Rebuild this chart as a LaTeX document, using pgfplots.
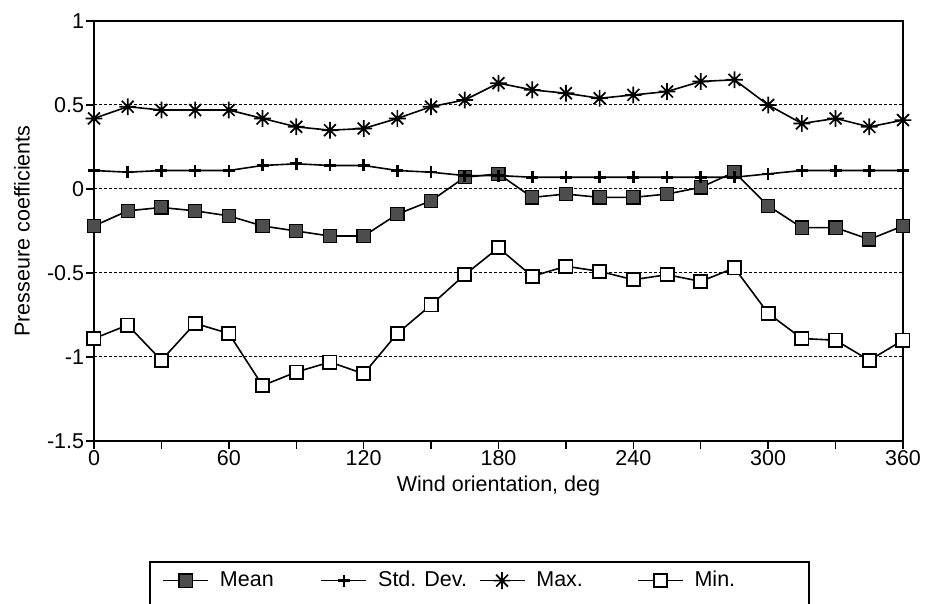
\documentclass[border=0pt]{standalone}
\usepackage{fontspec}
\setmainfont{Liberation Sans}
\usepackage{pgfplots}
\pgfplotsset{compat=1.18}

\pgfdeclareplotmark{star8}{%
 \pgfpathmoveto{\pgfpoint{-\pgfplotmarksize}{0pt}}\pgfpathlineto{\pgfpoint{\pgfplotmarksize}{0pt}}%
 \pgfpathmoveto{\pgfpoint{0pt}{-\pgfplotmarksize}}\pgfpathlineto{\pgfpoint{0pt}{\pgfplotmarksize}}%
 \pgfpathmoveto{\pgfpoint{-0.7071\pgfplotmarksize}{-0.7071\pgfplotmarksize}}\pgfpathlineto{\pgfpoint{0.7071\pgfplotmarksize}{0.7071\pgfplotmarksize}}%
 \pgfpathmoveto{\pgfpoint{-0.7071\pgfplotmarksize}{0.7071\pgfplotmarksize}}\pgfpathlineto{\pgfpoint{0.7071\pgfplotmarksize}{-0.7071\pgfplotmarksize}}%
 \pgfusepathqstroke}

\definecolor{meanfill}{HTML}{4D4D4D}
\newcommand{\chartfont}{\fontsize{10.75}{12.5}\selectfont}

\begin{document}
\begin{tikzpicture}
\begin{axis}[
  scale only axis,
  width=404.5pt, height=210pt,
  xmin=0, xmax=360, ymin=-1.5, ymax=1,
  xtick={0,60,...,360},
  minor xtick={30,90,...,330},
  ytick={-1.5,-1,-0.5,0,0.5,1},
  yticklabels={-1.5,-1,-0.5,0,0.5,1},
  xticklabels={0,60,120,180,240,300,360},
  tick align=outside,
  major tick length=4pt, minor tick length=4pt,
  xtick pos=bottom, ytick pos=left,
  tick style={black, line width=0.7pt},
  axis line style={black, line width=0.8pt},
  ymajorgrids,
  major grid style={black, line width=0.5pt, dash pattern=on 1.5pt off 1pt},
  tick label style={font=\chartfont, inner sep=0.75pt},
  label style={font=\chartfont},
  xlabel={Wind orientation, deg},
  ylabel={Presseure coefficients},
  xlabel style={at={(axis description cs:0.5,-0.107)}, anchor=center},
  ylabel style={at={(axis description cs:-0.089,0.5)}, anchor=center},
  legend columns=4,
  legend image code/.code={\draw[mark repeat=2,mark phase=2,#1] plot coordinates {(0pt,0pt)(11.25pt,0pt)(22.5pt,0pt)};},
  legend style={at={(axis description cs:0.0692,-0.288)}, anchor=north west,
    name=leg, draw=none, fill=none, font=\chartfont,
    inner xsep=6pt, inner ysep=4.5pt, column sep=5.5pt,
    nodes={inner sep=0pt}},
  legend cell align=left,
  every axis plot/.append style={black, line width=0.8pt},
]
\addplot[mark=square*, mark size=3.3pt, mark options={fill=meanfill, draw=black, line width=0.6pt}] coordinates {
(0,-0.22)(15,-0.13)(30,-0.11)(45,-0.13)(60,-0.16)(75,-0.22)(90,-0.25)(105,-0.28)(120,-0.28)
(135,-0.15)(150,-0.07)(165,0.07)(180,0.09)(195,-0.05)(210,-0.03)(225,-0.05)(240,-0.05)
(255,-0.03)(270,0.01)(285,0.10)(300,-0.10)(315,-0.23)(330,-0.23)(345,-0.30)(360,-0.22)};
\addlegendentry{\makebox[44.8pt][l]{Mean}}

\addplot[mark=+, mark size=3pt, mark options={line width=1.3pt}] coordinates {
(0,0.11)(15,0.10)(30,0.11)(45,0.11)(60,0.11)(75,0.14)(90,0.15)(105,0.14)(120,0.14)
(135,0.11)(150,0.10)(165,0.08)(180,0.08)(195,0.07)(210,0.07)(225,0.07)(240,0.07)
(255,0.07)(270,0.07)(285,0.07)(300,0.09)(315,0.11)(330,0.11)(345,0.11)(360,0.11)};
\addlegendentry{\makebox[44.8pt][l]{Std. Dev.}}

\addplot[mark=star8, mark size=4.2pt, mark options={line width=0.85pt}] coordinates {
(0,0.42)(15,0.49)(30,0.47)(45,0.47)(60,0.47)(75,0.42)(90,0.37)(105,0.35)(120,0.36)
(135,0.42)(150,0.49)(165,0.53)(180,0.63)(195,0.59)(210,0.57)(225,0.54)(240,0.56)
(255,0.58)(270,0.64)(285,0.65)(300,0.50)(315,0.39)(330,0.42)(345,0.37)(360,0.41)};
\addlegendentry{\makebox[44.8pt][l]{Max.}}

\addplot[mark=square*, mark size=3.3pt, mark options={fill=white, draw=black, line width=0.9pt}] coordinates {
(0,-0.89)(15,-0.81)(30,-1.02)(45,-0.80)(60,-0.86)(75,-1.17)(90,-1.09)(105,-1.03)(120,-1.10)
(135,-0.86)(150,-0.69)(165,-0.51)(180,-0.35)(195,-0.52)(210,-0.46)(225,-0.49)(240,-0.54)
(255,-0.51)(270,-0.55)(285,-0.47)(300,-0.74)(315,-0.89)(330,-0.90)(345,-1.02)(360,-0.90)};
\addlegendentry{\makebox[51pt][l]{Min.}}
\end{axis}
\draw[black, line width=0.6pt] ([yshift=-30pt]leg.south west) -- (leg.north west) -- (leg.north east) -- ([yshift=-30pt]leg.south east);
\pgfresetboundingbox
\useasboundingbox ([shift={(-47pt,-81.5pt)}]current axis.south west) rectangle ([shift={(416pt,220.5pt)}]current axis.south west);
\end{tikzpicture}
\end{document}
